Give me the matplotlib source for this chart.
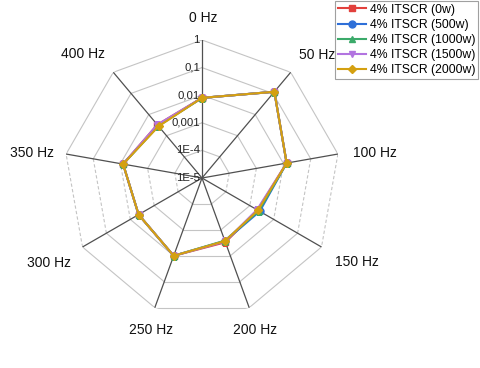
import numpy as np
import matplotlib
matplotlib.use("Agg")
import matplotlib.pyplot as plt

plt.rcParams['font.family'] = ['Liberation Sans', 'DejaVu Sans']

categories = ["0 Hz", "50 Hz", "100 Hz", "150 Hz", "200 Hz", "250 Hz", "300 Hz", "350 Hz", "400 Hz"]
series_names = ["4% ITSCR (0w)", "4% ITSCR (500w)", "4% ITSCR (1000w)", "4% ITSCR (1500w)", "4% ITSCR (2000w)"]
s_0w    = [0.008, 0.12, 0.013, 0.0021, 0.0030, 0.010, 0.0045, 0.008, 0.0033]
s_500w  = [0.008, 0.12, 0.013, 0.0026, 0.0027, 0.010, 0.0045, 0.008, 0.0030]
s_1000w = [0.008, 0.12, 0.013, 0.0024, 0.0026, 0.010, 0.0045, 0.008, 0.0029]
s_1500w = [0.008, 0.12, 0.013, 0.0020, 0.0028, 0.010, 0.0045, 0.008, 0.0033]
s_2000w = [0.008, 0.12, 0.013, 0.0022, 0.0027, 0.010, 0.0045, 0.008, 0.0028]
ring_values = [1e-5, 1e-4, 1e-3, 1e-2, 1e-1, 1]
ring_labels = ["1E-5", "1E-4", "0,001", "0,01", "0,1", "1"]

# layout: pixel offsets of category labels from spoke tips
label_offsets = [(1, 22), (26, 17), (37, 1), (35, -15), (6, -22),
                 (-4, -22), (-33, -16), (-34, 1), (-30, 18)]

series = [s_0w, s_500w, s_1000w, s_1500w, s_2000w]
colors = ["#E2403C", "#2E6FD8", "#3BAA6A", "#B274E0", "#D4A010"]
markers = ["s", "o", "^", "v", "D"]
msizes = [4.5, 5, 5, 5, 4.5]

fig = plt.figure(figsize=(4.8, 3.68), dpi=100)
ax = fig.add_axes([(202 - 138) / 480, (190 - 138) / 368, 276 / 480, 276 / 368], projection="polar")
ax.set_theta_zero_location("N")
ax.set_theta_direction(-1)
ax.set_rscale("log")
ax.set_ylim(ring_values[0], ring_values[-1])
ax.grid(False)
ax.spines["polar"].set_visible(False)
ax.set_yticks([])

n = len(categories)
theta = np.linspace(0, 2 * np.pi, n, endpoint=False)

# polygon rings
for rv in ring_values[1:]:
    for i in range(n):
        t0, t1 = theta[i], theta[(i + 1) % n]
        if t1 == 0:
            t1 = 2 * np.pi
        ls = (0, (3, 2)) if i in (2, 6) else "-"
        ax.plot([t0, t1], [rv, rv], color="#c4c4c4", lw=0.8, ls=ls, zorder=1)
# spokes
for t in theta:
    ax.plot([t, t], [ring_values[0], ring_values[-1]], color="#505050", lw=0.9, zorder=2)

# ring labels
for rv, lab in zip(ring_values, ring_labels):
    ax.annotate(lab, xy=(0, rv), xytext=(-1.5, 0), textcoords="offset points",
                ha="right", va="center", fontsize=8.2, color="#222222", zorder=3)

# category labels
ax.set_xticks([])
for t, lab, off in zip(theta, categories, label_offsets):
    ax.annotate(lab, xy=(t, ring_values[-1]), xytext=off, textcoords="offset pixels",
                ha="center", va="center", fontsize=10, color="#111111",
                annotation_clip=False)

tt = np.append(theta, theta[0])
for vals, name, c, m, ms in zip(series, series_names, colors, markers, msizes):
    v = np.append(vals, vals[0])
    ax.plot(tt, v, color=c, lw=1.5, marker=m, ms=ms, label=name, zorder=4)

leg = fig.legend(loc="upper right", bbox_to_anchor=(478 / 480, 1 - 1 / 368), borderaxespad=0,
                 fontsize=8.8, frameon=True, fancybox=False, edgecolor="#888888",
                 handlelength=2.3, handletextpad=0.33, labelspacing=0.26, borderpad=0.22)
leg.get_frame().set_linewidth(0.8)

fig.savefig("out.png", dpi=100)
